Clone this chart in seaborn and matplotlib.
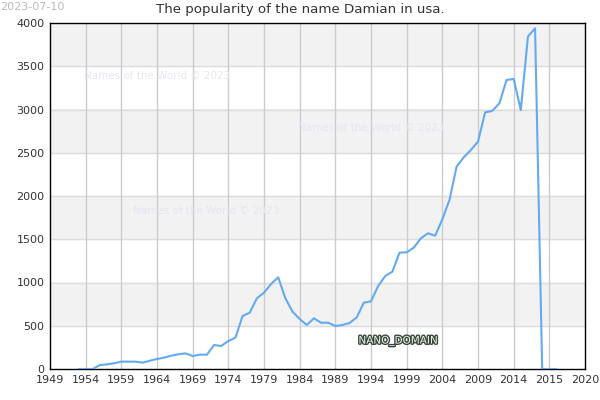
import pandas as pd
import matplotlib.pyplot as plt
import matplotlib.patheffects as pe
import seaborn as sns

# 数据：Damian 在美国的流行度
years = list(range(1953, 2021))
counts = [0, 0, 0, 46, 54, 66, 85, 85, 85, 73,
          96, 116, 131, 154, 170, 181, 150, 166, 165, 277,
          266, 324, 362, 613, 651, 817, 882, 983, 1060, 817,
          663, 578, 509, 586, 535, 535, 497, 509, 532, 597,
          767, 782, 959, 1075, 1125, 1345, 1349, 1403, 1511, 1569,
          1541, 1730, 1954, 2339, 2447, 2532, 2628, 2967, 2983, 3072,
          3341, 3353, 2994, 3842, 3939, 0, 0, 0]
tick_pos = list(range(1949, 2025, 5))
tick_labels = ['1949', '1954', '1959', '1964', '1969', '1974', '1979', '1984',
               '1989', '1994', '1999', '2004', '2009', '2014', '2015', '2020']
y_ticks = [0, 500, 1000, 1500, 2000, 2500, 3000, 3500, 4000]

df = pd.DataFrame({'year': years, 'count': counts})

sns.set_style('white')
plt.rcParams['font.family'] = ['DejaVu Sans']

fig = plt.figure(figsize=(6, 4), dpi=100)
ax = fig.add_axes([0.0833, 0.0775, 0.8917, 0.865])

# 背景条纹
for lo in range(500, 4000, 1000):
    ax.axhspan(lo, lo + 500, color='#f2f2f2', zorder=0)
for y in y_ticks[1:-1]:
    ax.axhline(y, color='#dddddd', lw=1, zorder=1)
for x in tick_pos[1:-1]:
    ax.axvline(x, color='#cccccc', lw=1, zorder=1)

sns.lineplot(data=df, x='year', y='count', ax=ax, color='#64aaf0', lw=1.5, zorder=3)

ax.set_xlim(1949, 2024)
ax.set_ylim(0, 4000)
ax.set_xticks(tick_pos)
ax.set_xticklabels(tick_labels)
ax.set_yticks(y_ticks)
ax.tick_params(axis='both', length=0, labelsize=8, colors='#333333', pad=4)
ax.set_xlabel('')
ax.set_ylabel('')
for s in ax.spines.values():
    s.set_color('black')
    s.set_linewidth(1)

fig.text(0.5, 1 - 10 / 400, 'The popularity of the name Damian in usa.', fontsize=9.6,
         color='#333333', ha='center', va='center')
fig.text(0.0, 0.995, '2023-07-10', fontsize=8, color='#bbbbbb', va='top', ha='left')

wm = dict(fontsize=7.5, color='#e6e6f5', zorder=2, ha='left', va='center', transform=fig.transFigure)
ax.text(84 / 600, 1 - 76 / 400, 'Names of the World © 2023', **wm)
ax.text(298 / 600, 1 - 128 / 400, 'Names of the World © 2023', **wm)
ax.text(133 / 600, 1 - 211 / 400, 'Names of the World © 2023', **wm)

ax.text(398 / 600, 1 - 341 / 400, 'NANO_DOMAIN', fontsize=7.5, color='#eef3ee', ha='center', va='center',
        transform=fig.transFigure, zorder=4,
        path_effects=[pe.withStroke(linewidth=2, foreground='#3a4a3a')])

plt.savefig('out.png', dpi=100)
